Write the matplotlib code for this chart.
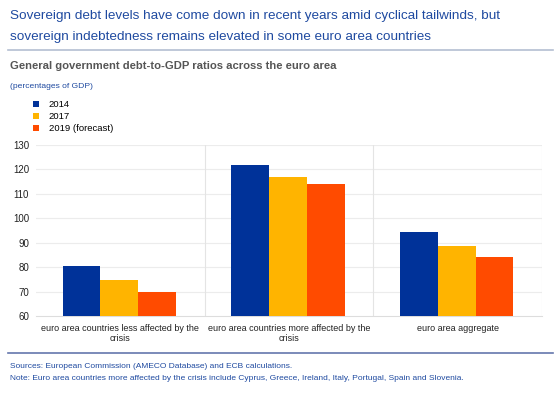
import numpy as np
import matplotlib.pyplot as plt
from matplotlib.lines import Line2D

plt.rcParams['font.family'] = ['Liberation Sans', 'DejaVu Sans']

# Data
categories = ['euro area countries less affected by the\ncrisis',
              'euro area countries more affected by the\ncrisis',
              'euro area aggregate']
series_names = ['2014', '2017', '2019 (forecast)']
v2014 = [80.5, 122.0, 94.3]
v2017 = [74.8, 117.0, 88.8]
v2019 = [69.9, 114.0, 84.2]
colors = ['#003299', '#FFB400', '#FF4B00']
yticks = [60, 70, 80, 90, 100, 110, 120, 130]

blue = '#1f4aa0'

fig = plt.figure(figsize=(5.6, 4.01), dpi=100)
W, H = 560, 401

def fx(px):
    return px / W

def fy(py):
    return 1 - py / H

# header
fig.text(fx(10), fy(16), 'Sovereign debt levels have come down in recent years amid cyclical tailwinds, but',
         fontsize=9.7, color=blue, va='center')
fig.text(fx(10), fy(37), 'sovereign indebtedness remains elevated in some euro area countries',
         fontsize=9.7, color=blue, va='center')
fig.add_artist(Line2D([fx(8), fx(553)], [fy(50), fy(50)], color='#b4bfd2', lw=1.2,
                      transform=fig.transFigure))
fig.text(fx(10), fy(66), 'General government debt-to-GDP ratios across the euro area',
         fontsize=8.1, color='#555555', fontweight='bold', va='center')
fig.text(fx(10), fy(87), '(percentages of GDP)', fontsize=6.1, color=blue, va='center')

# chart
ax = fig.add_axes([fx(36), fy(316), fx(542) - fx(36), fy(145) - fy(316)])
x = np.arange(len(categories))
w = 0.224
bars = []
for i, (vals, c, name) in enumerate(zip([v2014, v2017, v2019], colors, series_names)):
    b = ax.bar(x + (i - 1) * w - 0.006, np.array(vals) - 60, width=w, bottom=60,
               color=c, label=name, zorder=3)
    bars.append(b)

ax.set_ylim(60, 130)
ax.set_xlim(-0.5, 2.5)
ax.set_yticks(yticks)
ax.set_xticks(x)
ax.set_xticklabels(categories, fontsize=6.5, color='#222222', linespacing=1.15)
ax.tick_params(axis='y', labelsize=7, length=0, pad=5, labelcolor='#222222')
ax.tick_params(axis='x', length=0, pad=6)
for yv in yticks[1:]:
    ax.axhline(yv, color='#ececec', lw=0.8, zorder=0)
for xv in [0.5, 1.5, 2.5]:
    ax.axvline(xv, color='#e4e4e4', lw=0.8, zorder=0)
for s in ['top', 'right', 'left']:
    ax.spines[s].set_visible(False)
ax.spines['bottom'].set_color('#dddddd')
ax.spines['bottom'].set_linewidth(0.8)

fig.legend(handles=bars, labels=series_names, loc='upper left',
           bbox_to_anchor=(fx(33), fy(100)), frameon=False, fontsize=6.8,
           handlelength=0.65, handleheight=0.65, handletextpad=1.0,
           labelspacing=0.33, borderpad=0, borderaxespad=0)

# footer
fig.add_artist(Line2D([fx(8), fx(553)], [fy(353), fy(353)], color='#6577ad', lw=1.2,
                      transform=fig.transFigure))
fig.text(fx(10), fy(367), 'Sources: European Commission (AMECO Database) and ECB calculations.',
         fontsize=6, color=blue, va='center')
fig.text(fx(10), fy(379), 'Note: Euro area countries more affected by the crisis include Cyprus, Greece, Ireland, Italy, Portugal, Spain and Slovenia.',
         fontsize=6, color=blue, va='center')

fig.savefig('out.png', dpi=100)
